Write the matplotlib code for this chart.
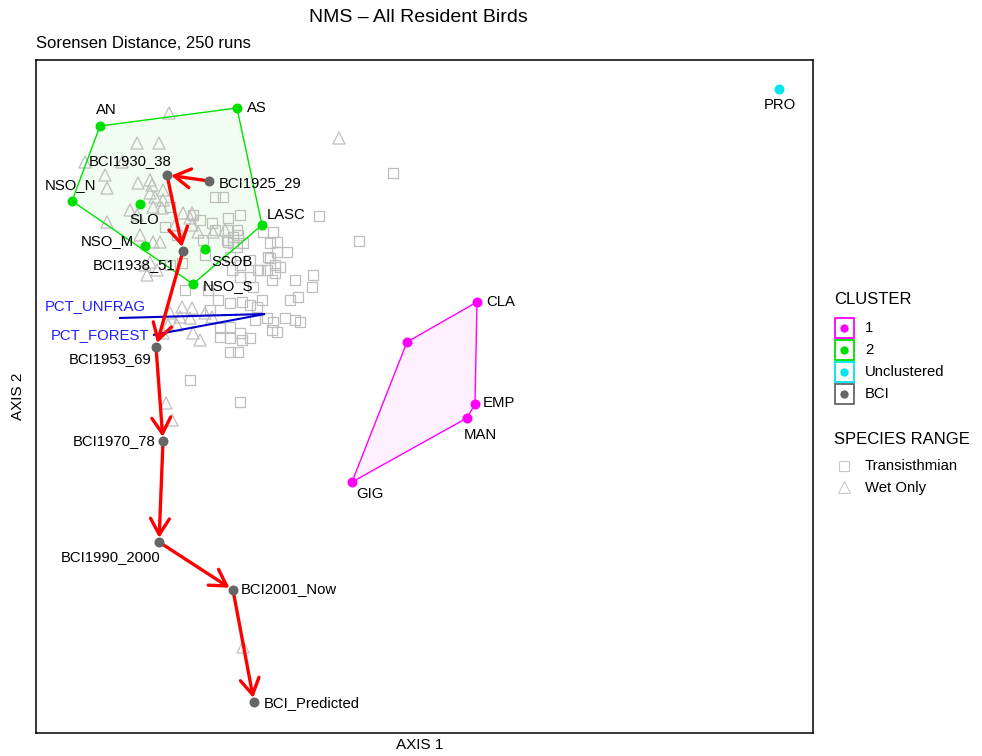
import matplotlib
matplotlib.use("Agg")
import matplotlib.pyplot as plt
from matplotlib.patches import Polygon, FancyArrowPatch, Rectangle, ArrowStyle

plt.rcParams['font.family'] = ['Liberation Sans', 'DejaVu Sans']

# ---------------- data (NMS scores, arbitrary units) ----------------
site_names = ['AN', 'AS', 'NSO_N', 'SLO', 'NSO_M', 'LASC', 'SSOB', 'NSO_S',
              'CLA', '', 'EMP', 'MAN', 'GIG', 'PRO']
site_cluster = ['2', '2', '2', '2', '2', '2', '2', '2',
                '1', '1', '1', '1', '1', 'Unclustered']
site_x = [64, 201, 36, 104, 109, 226, 169, 157, 441, 371, 439, 431, 316, 743]
site_y = [607, 625, 532, 529, 487, 508, 484, 449, 431, 391, 329, 315, 251, 644]

bci_names = ['BCI1925_29', 'BCI1930_38', 'BCI1938_51', 'BCI1953_69',
             'BCI1970_78', 'BCI1990_2000', 'BCI2001_Now', 'BCI_Predicted']
bci_x = [173, 131, 147, 120, 127, 123, 197, 218]
bci_y = [552, 558, 482, 386, 292, 191, 143, 31]

vector_names = ['PCT_UNFRAG', 'PCT_FOREST']
vector_origin_x = [229, 229]
vector_origin_y = [419, 419]
vector_end_x = [83, 117]
vector_end_y = [415, 398]

# species scores: Transisthmian (squares)
trans_x = [134, 179, 187, 157, 164, 167, 191, 197, 192, 176, 179, 192, 201, 134, 146,
           192, 201, 194, 204, 214, 196, 204, 214, 222, 234, 234, 241, 244, 231, 239,
           259, 277, 276, 262, 254, 194, 206, 214, 221, 184, 194, 204, 184, 194, 206,
           214, 231, 237, 236, 241, 259, 194, 202, 154, 204, 357, 283, 323, 227, 237,
           241, 251, 232, 239, 224, 236, 217, 204, 207, 197, 202, 174, 182, 226, 249,
           264, 219, 172, 149, 169, 129, 141]
trans_y = [526, 536, 536, 518, 513, 493, 493, 496, 515, 510, 503, 503, 503, 468, 470,
           491, 486, 476, 468, 473, 463, 456, 456, 463, 475, 490, 481, 466, 463, 460,
           453, 458, 446, 436, 433, 430, 431, 428, 426, 405, 406, 400, 396, 395, 393,
           395, 415, 411, 403, 401, 413, 381, 381, 353, 331, 560, 517, 492, 501, 501,
           491, 481, 476, 468, 463, 453, 446, 518, 490, 490, 498, 423, 433, 433, 415,
           411, 413, 443, 443, 478, 506, 498]

# species scores: Wet Only (triangles)
wet_x = [133, 303, 101, 123, 49, 86, 69, 71, 102, 114, 116, 127, 114, 119, 127,
         117, 126, 94, 101, 71, 147, 154, 139, 177, 156, 104, 117, 124, 156, 162,
         189, 109, 114, 121, 111, 146, 156, 134, 144, 154, 169, 176, 132, 141, 127,
         157, 164, 130, 136, 207]
wet_y = [620, 595, 590, 590, 571, 571, 558, 545, 550, 553, 548, 543, 540, 536, 533,
         526, 525, 523, 518, 511, 520, 515, 508, 501, 508, 498, 491, 491, 520, 501,
         503, 468, 471, 463, 458, 426, 425, 420, 416, 415, 420, 416, 408, 408, 400,
         400, 393, 330, 313, 86]

cluster_order = ['1', '2', 'Unclustered', 'BCI']

# ---------------- styles ----------------
cluster_colors = {'1': '#FF00FF', '2': '#00E000', 'Unclustered': '#00E5EE', 'BCI': '#666666'}
grey = '#BEBEBE'
# label offsets in pixels (dx, dy; dy positive = up) and alignment
label_style = {
    'AN': (6, 16, 'center'), 'AS': (10, 0, 'left'), 'NSO_N': (-1, 16, 'center'),
    'SLO': (4, -16, 'center'), 'NSO_M': (-11, 5, 'right'), 'LASC': (5, 10, 'left'),
    'SSOB': (6, -13, 'left'), 'NSO_S': (10, -2, 'left'), 'CLA': (9, 0, 'left'),
    'EMP': (8, 1, 'left'), 'MAN': (13, -17, 'center'), 'GIG': (18, -12, 'center'),
    'PRO': (1, -16, 'center'),
    'BCI1925_29': (10, -2, 'left'), 'BCI1930_38': (5, 14, 'right'),
    'BCI1938_51': (-8, -14, 'right'), 'BCI1953_69': (-4, -12, 'right'),
    'BCI1970_78': (-8, 0, 'right'), 'BCI1990_2000': (1, -15, 'right'),
    'BCI2001_Now': (8, 1, 'left'), 'BCI_Predicted': (10, -1, 'left'),
}
vec_label_style = {'PCT_UNFRAG': (-24, 12), 'PCT_FOREST': (-53, 0)}
fs = 10.7


def convex_hull(points):
    pts = sorted(set(points))
    if len(pts) <= 2:
        return pts

    def cross(o, a, b):
        return (a[0] - o[0]) * (b[1] - o[1]) - (a[1] - o[1]) * (b[0] - o[0])
    lower, upper = [], []
    for p in pts:
        while len(lower) >= 2 and cross(lower[-2], lower[-1], p) <= 0:
            lower.pop()
        lower.append(p)
    for p in reversed(pts):
        while len(upper) >= 2 and cross(upper[-2], upper[-1], p) <= 0:
            upper.pop()
        upper.append(p)
    return lower[:-1] + upper[:-1]


fig = plt.figure(figsize=(9.82, 7.56), dpi=100)
ax = fig.add_axes([36 / 982, 23 / 756, 777 / 982, 673 / 756])
ax.set_xlim(0, 777)
ax.set_ylim(0, 673)
ax.set_xticks([])
ax.set_yticks([])
for s in ax.spines.values():
    s.set_linewidth(1.1)
    s.set_color('black')

# hulls
for cl in ['1', '2']:
    pts = [(x, y) for x, y, c in zip(site_x, site_y, site_cluster) if c == cl]
    hull = convex_hull(pts)
    ax.add_patch(Polygon(hull, closed=True, facecolor=cluster_colors[cl], alpha=0.06,
                         edgecolor='none', zorder=1))
    ax.add_patch(Polygon(hull, closed=True, fill=False, edgecolor=cluster_colors[cl],
                         lw=1.0, zorder=3))

# species
ax.scatter(trans_x, trans_y, marker='s', s=58, facecolors='none', edgecolors=grey,
           linewidths=0.9, zorder=2)
ax.scatter(wet_x, wet_y, marker='^', s=75, facecolors='none', edgecolors=grey,
           linewidths=0.9, zorder=2)

# environmental vectors
for name, ox, oy, ex, ey in zip(vector_names, vector_origin_x, vector_origin_y,
                                vector_end_x, vector_end_y):
    ax.plot([ox, ex], [oy, ey], color='#0000CD', lw=1.5, zorder=4, solid_capstyle='butt')
    dx, dy = vec_label_style[name]
    ax.annotate(name, (ex, ey), xytext=(dx, dy), textcoords='offset pixels',
                ha='center', va='center', color='#2020FF', fontsize=fs, zorder=8)

# BCI trajectory arrows
astyle = ArrowStyle('->', head_length=11.5, head_width=6.8)
for i in range(len(bci_x) - 1):
    arr = FancyArrowPatch((bci_x[i], bci_y[i]), (bci_x[i + 1], bci_y[i + 1]),
                          arrowstyle=astyle, mutation_scale=1, color='#FF0000',
                          lw=2.4, shrinkA=0, shrinkB=3, zorder=5)
    ax.add_patch(arr)

# points
for cl in ['1', '2', 'Unclustered']:
    xs = [x for x, c in zip(site_x, site_cluster) if c == cl]
    ys = [y for y, c in zip(site_y, site_cluster) if c == cl]
    ax.scatter(xs, ys, s=52, color=cluster_colors[cl], zorder=6, linewidths=0)
ax.scatter(bci_x, bci_y, s=52, color=cluster_colors['BCI'], zorder=6, linewidths=0)

# labels
for name, x, y in list(zip(site_names, site_x, site_y)) + list(zip(bci_names, bci_x, bci_y)):
    if not name:
        continue
    dx, dy, ha = label_style[name]
    ax.annotate(name, (x, y), xytext=(dx, dy), textcoords='offset pixels',
                ha=ha, va='center', fontsize=fs, color='black', zorder=9)

# titles and axis labels
fig.text(418 / 982, 1 - 18 / 756, 'NMS – All Resident Birds', ha='center', va='center',
         fontsize=14)
fig.text(36 / 982, 1 - 43 / 756, 'Sorensen Distance, 250 runs', ha='left', va='center',
         fontsize=12)
fig.text(420 / 982, 1 - 745 / 756, 'AXIS 1', ha='center', va='center', fontsize=11)
fig.text(18 / 982, 1 - 396 / 756, 'AXIS 2', ha='center', va='center', fontsize=11,
         rotation=90)

# legend (drawn in figure pixel space)
lax = fig.add_axes([0, 0, 1, 1], zorder=10)
lax.set_xlim(0, 982)
lax.set_ylim(756, 0)
lax.axis('off')
lax.text(834, 300, 'CLUSTER', ha='left', va='center', fontsize=12)
for i, cl in enumerate(cluster_order):
    yy = 328 + 22 * i
    lax.add_patch(Rectangle((835, yy - 10), 19, 20, fill=False,
                            edgecolor=cluster_colors[cl], lw=1.3))
    lax.plot([844.5], [yy], 'o', color=cluster_colors[cl], ms=6, mew=0)
    lax.text(865, yy, cl, ha='left', va='center', fontsize=fs)
lax.text(834, 439, 'SPECIES RANGE', ha='left', va='center', fontsize=12)
lax.plot([844], [466], 's', mfc='none', mec='#C8C8C8', ms=7, mew=0.8)
lax.text(865, 466, 'Transisthmian', ha='left', va='center', fontsize=fs)
lax.plot([844], [487], '^', mfc='none', mec='#C8C8C8', ms=8, mew=0.8)
lax.text(865, 488, 'Wet Only', ha='left', va='center', fontsize=fs)

fig.savefig('out.png', dpi=100)
